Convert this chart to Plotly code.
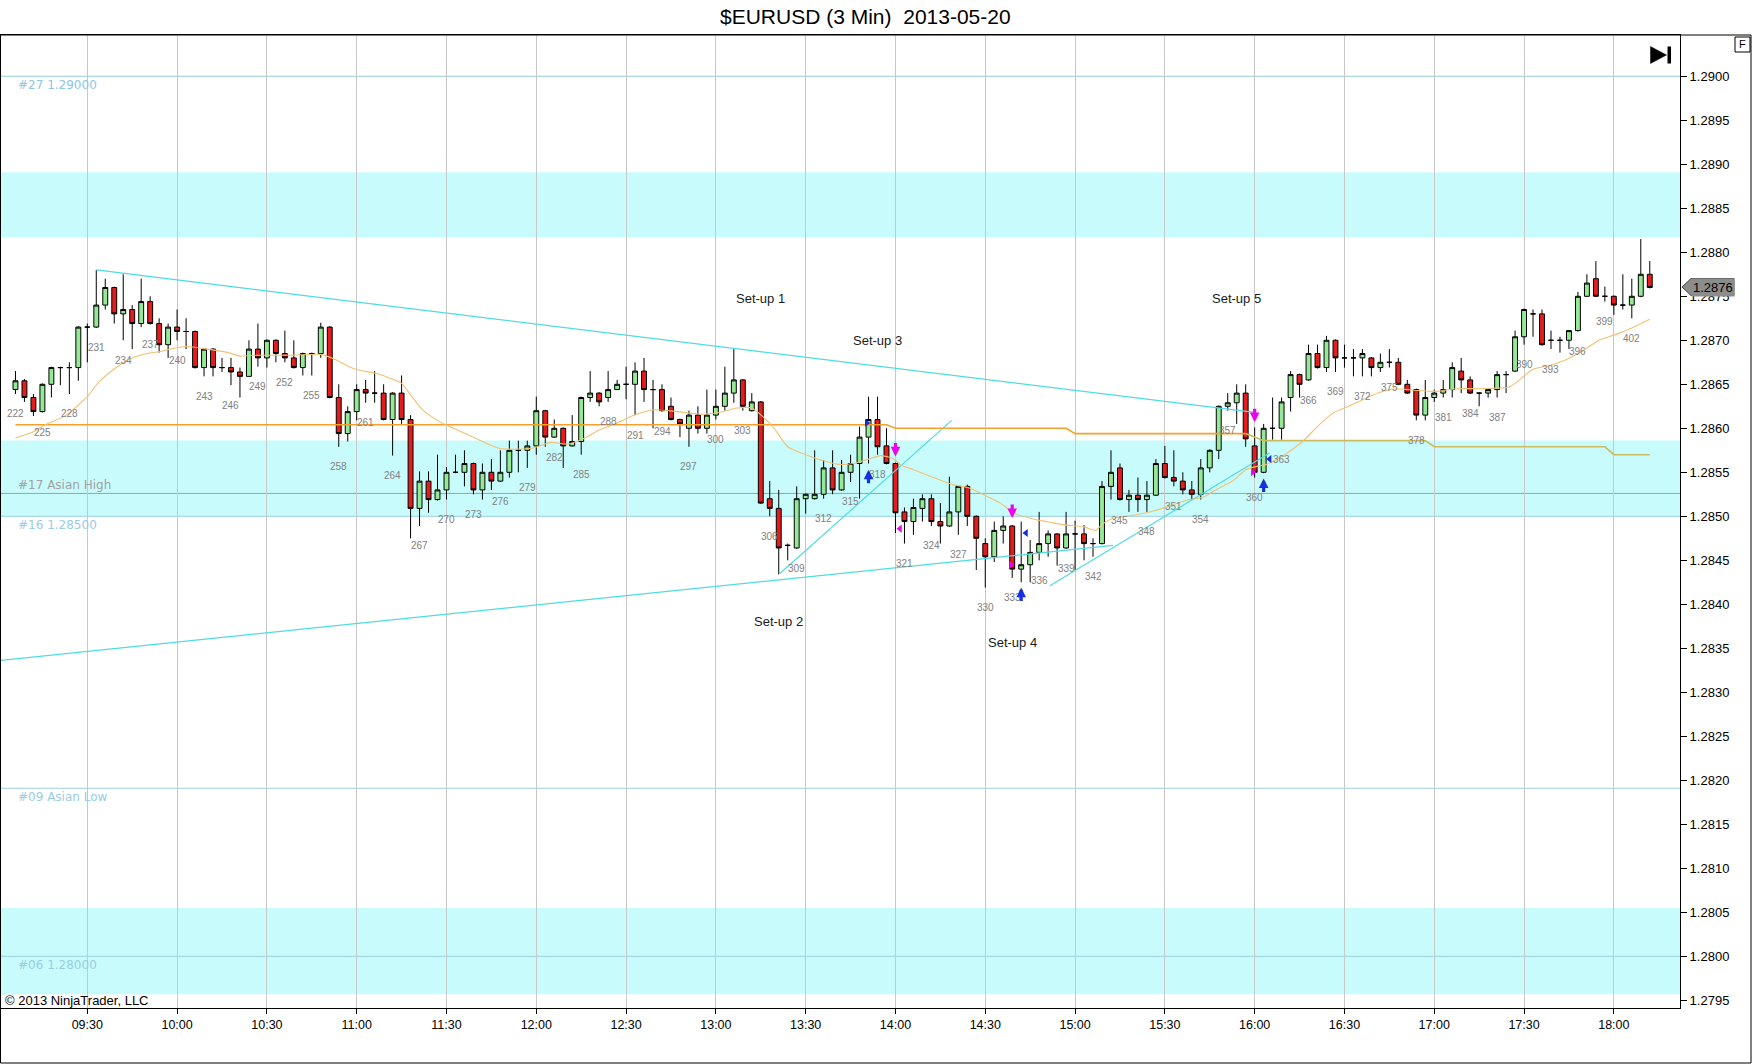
import plotly.graph_objects as go
import pandas as pd

DAY = "2013-05-20"

# ---------------- data ----------------
bar_numbers = list(range(222, 405))
first_bar_time = "09:06"
bar_minutes = 3

opens = [
    1.28644, 1.28654, 1.28635, 1.28619, 1.28650, 1.28669, 1.28669, 1.28669, 1.28715, 1.28715,
    1.28740, 1.28760, 1.28730, 1.28735, 1.28719, 1.28744, 1.28719, 1.28695, 1.28715, 1.28710,
    1.28710, 1.28669, 1.28690, 1.28669, 1.28669, 1.28664, 1.28659, 1.28690, 1.28680, 1.28700,
    1.28685, 1.28680, 1.28669, 1.28685, 1.28685, 1.28715, 1.28635, 1.28594, 1.28619, 1.28644,
    1.28640, 1.28640, 1.28610, 1.28640, 1.28610, 1.28509, 1.28540, 1.28519, 1.28530, 1.28550,
    1.28550, 1.28560, 1.28530, 1.28550, 1.28540, 1.28550, 1.28575, 1.28575, 1.28580, 1.28620,
    1.28590, 1.28600, 1.28580, 1.28585, 1.28635, 1.28640, 1.28635, 1.28644, 1.28650, 1.28650,
    1.28665, 1.28644, 1.28644, 1.28625, 1.28610, 1.28600, 1.28615, 1.28600, 1.28615, 1.28625,
    1.28640, 1.28655, 1.28620, 1.28630, 1.28520, 1.28509, 1.28467, 1.28464, 1.28520, 1.28520,
    1.28525, 1.28555, 1.28530, 1.28550, 1.28560, 1.28590, 1.28610, 1.28580, 1.28560, 1.28505,
    1.28494, 1.28509, 1.28520, 1.28494, 1.28489, 1.28505, 1.28534, 1.28500, 1.28469, 1.28454,
    1.28484, 1.28489, 1.28440, 1.28445, 1.28459, 1.28469, 1.28480, 1.28464, 1.28480, 1.28480,
    1.28469, 1.28469, 1.28534, 1.28555, 1.28519, 1.28524, 1.28519, 1.28524, 1.28560, 1.28544,
    1.28540, 1.28530, 1.28525, 1.28555, 1.28575, 1.28625, 1.28629, 1.28640, 1.28580, 1.28550,
    1.28600, 1.28600, 1.28635, 1.28661, 1.28655, 1.28685, 1.28669, 1.28700, 1.28680, 1.28680,
    1.28680, 1.28680, 1.28669, 1.28675, 1.28675, 1.28650, 1.28644, 1.28615, 1.28635, 1.28640,
    1.28644, 1.28665, 1.28655, 1.28640, 1.28640, 1.28644, 1.28661, 1.28665, 1.28704, 1.28730,
    1.28730, 1.28700, 1.28700, 1.28700, 1.28711, 1.28750, 1.28770, 1.28750, 1.28750, 1.28740,
    1.28740, 1.28750, 1.28775,
]
highs = [
    1.28665, 1.28656, 1.28639, 1.28651, 1.28670, 1.28670, 1.28675, 1.28716, 1.28719, 1.28780,
    1.28770, 1.28761, 1.28775, 1.28740, 1.28770, 1.28750, 1.28725, 1.28719, 1.28735, 1.28725,
    1.28711, 1.28690, 1.28691, 1.28680, 1.28680, 1.28669, 1.28700, 1.28719, 1.28701, 1.28701,
    1.28711, 1.28700, 1.28686, 1.28686, 1.28720, 1.28716, 1.28650, 1.28625, 1.28650, 1.28655,
    1.28665, 1.28650, 1.28641, 1.28660, 1.28615, 1.28551, 1.28551, 1.28570, 1.28556, 1.28570,
    1.28575, 1.28561, 1.28560, 1.28565, 1.28575, 1.28586, 1.28586, 1.28586, 1.28636, 1.28621,
    1.28610, 1.28601, 1.28615, 1.28636, 1.28665, 1.28641, 1.28665, 1.28655, 1.28670, 1.28675,
    1.28680, 1.28655, 1.28650, 1.28635, 1.28611, 1.28620, 1.28625, 1.28644, 1.28644, 1.28670,
    1.28690, 1.28656, 1.28640, 1.28631, 1.28540, 1.28530, 1.28469, 1.28534, 1.28526, 1.28575,
    1.28564, 1.28575, 1.28564, 1.28570, 1.28602, 1.28636, 1.28636, 1.28600, 1.28561, 1.28510,
    1.28520, 1.28525, 1.28525, 1.28515, 1.28545, 1.28535, 1.28536, 1.28501, 1.28475, 1.28494,
    1.28500, 1.28490, 1.28494, 1.28473, 1.28505, 1.28484, 1.28481, 1.28505, 1.28495, 1.28490,
    1.28475, 1.28540, 1.28575, 1.28560, 1.28530, 1.28544, 1.28540, 1.28565, 1.28580, 1.28575,
    1.28550, 1.28540, 1.28565, 1.28576, 1.28626, 1.28640, 1.28650, 1.28650, 1.28601, 1.28605,
    1.28635, 1.28635, 1.28665, 1.28662, 1.28695, 1.28695, 1.28705, 1.28701, 1.28695, 1.28690,
    1.28690, 1.28681, 1.28685, 1.28690, 1.28680, 1.28655, 1.28645, 1.28655, 1.28644, 1.28655,
    1.28675, 1.28680, 1.28659, 1.28641, 1.28645, 1.28665, 1.28665, 1.28711, 1.28736, 1.28735,
    1.28735, 1.28711, 1.28704, 1.28711, 1.28755, 1.28775, 1.28790, 1.28761, 1.28751, 1.28775,
    1.28770, 1.28815, 1.28790,
]
lows = [
    1.28639, 1.28630, 1.28614, 1.28618, 1.28635, 1.28649, 1.28639, 1.28654, 1.28675, 1.28714,
    1.28735, 1.28719, 1.28700, 1.28690, 1.28715, 1.28718, 1.28686, 1.28680, 1.28700, 1.28690,
    1.28668, 1.28659, 1.28659, 1.28664, 1.28649, 1.28635, 1.28659, 1.28670, 1.28669, 1.28675,
    1.28675, 1.28668, 1.28660, 1.28660, 1.28680, 1.28634, 1.28579, 1.28585, 1.28609, 1.28629,
    1.28629, 1.28609, 1.28569, 1.28605, 1.28475, 1.28489, 1.28504, 1.28518, 1.28519, 1.28549,
    1.28534, 1.28525, 1.28519, 1.28530, 1.28539, 1.28544, 1.28550, 1.28555, 1.28570, 1.28579,
    1.28589, 1.28555, 1.28579, 1.28570, 1.28630, 1.28625, 1.28630, 1.28644, 1.28633, 1.28615,
    1.28630, 1.28600, 1.28619, 1.28609, 1.28590, 1.28579, 1.28594, 1.28594, 1.28610, 1.28620,
    1.28629, 1.28620, 1.28619, 1.28514, 1.28500, 1.28434, 1.28450, 1.28463, 1.28503, 1.28519,
    1.28520, 1.28525, 1.28529, 1.28539, 1.28520, 1.28560, 1.28570, 1.28559, 1.28481, 1.28469,
    1.28479, 1.28494, 1.28489, 1.28469, 1.28488, 1.28479, 1.28489, 1.28439, 1.28419, 1.28448,
    1.28469, 1.28430, 1.28425, 1.28425, 1.28450, 1.28454, 1.28444, 1.28463, 1.28439, 1.28450,
    1.28454, 1.28468, 1.28519, 1.28518, 1.28505, 1.28505, 1.28505, 1.28523, 1.28543, 1.28534,
    1.28525, 1.28519, 1.28519, 1.28550, 1.28565, 1.28620, 1.28605, 1.28579, 1.28544, 1.28549,
    1.28587, 1.28587, 1.28619, 1.28635, 1.28654, 1.28668, 1.28664, 1.28664, 1.28669, 1.28659,
    1.28659, 1.28659, 1.28664, 1.28669, 1.28649, 1.28639, 1.28609, 1.28609, 1.28630, 1.28635,
    1.28635, 1.28640, 1.28639, 1.28625, 1.28635, 1.28635, 1.28640, 1.28664, 1.28695, 1.28704,
    1.28694, 1.28690, 1.28686, 1.28690, 1.28710, 1.28749, 1.28749, 1.28744, 1.28729, 1.28735,
    1.28725, 1.28749, 1.28759,
]
closes = [
    1.28654, 1.28635, 1.28619, 1.28650, 1.28669, 1.28669, 1.28669, 1.28715, 1.28715, 1.28740,
    1.28760, 1.28730, 1.28735, 1.28719, 1.28744, 1.28719, 1.28695, 1.28715, 1.28710, 1.28710,
    1.28669, 1.28690, 1.28669, 1.28669, 1.28664, 1.28659, 1.28690, 1.28680, 1.28700, 1.28685,
    1.28680, 1.28669, 1.28685, 1.28685, 1.28715, 1.28635, 1.28594, 1.28619, 1.28644, 1.28640,
    1.28640, 1.28610, 1.28640, 1.28610, 1.28509, 1.28540, 1.28519, 1.28530, 1.28550, 1.28550,
    1.28560, 1.28530, 1.28550, 1.28540, 1.28550, 1.28575, 1.28575, 1.28580, 1.28620, 1.28590,
    1.28600, 1.28580, 1.28585, 1.28635, 1.28640, 1.28630, 1.28644, 1.28650, 1.28650, 1.28665,
    1.28644, 1.28644, 1.28620, 1.28610, 1.28605, 1.28615, 1.28600, 1.28615, 1.28625, 1.28640,
    1.28655, 1.28625, 1.28630, 1.28515, 1.28509, 1.28464, 1.28467, 1.28520, 1.28525, 1.28525,
    1.28555, 1.28530, 1.28550, 1.28560, 1.28590, 1.28610, 1.28579, 1.28560, 1.28504, 1.28494,
    1.28510, 1.28520, 1.28494, 1.28489, 1.28505, 1.28534, 1.28500, 1.28475, 1.28454, 1.28484,
    1.28489, 1.28440, 1.28445, 1.28459, 1.28469, 1.28480, 1.28464, 1.28480, 1.28480, 1.28469,
    1.28469, 1.28534, 1.28550, 1.28519, 1.28524, 1.28519, 1.28524, 1.28560, 1.28544, 1.28540,
    1.28530, 1.28525, 1.28555, 1.28575, 1.28625, 1.28629, 1.28640, 1.28588, 1.28550, 1.28600,
    1.28600, 1.28630, 1.28661, 1.28650, 1.28685, 1.28669, 1.28700, 1.28680, 1.28680, 1.28680,
    1.28685, 1.28669, 1.28675, 1.28675, 1.28650, 1.28640, 1.28615, 1.28635, 1.28640, 1.28644,
    1.28669, 1.28655, 1.28640, 1.28640, 1.28644, 1.28661, 1.28661, 1.28704, 1.28735, 1.28730,
    1.28695, 1.28700, 1.28700, 1.28711, 1.28750, 1.28765, 1.28750, 1.28750, 1.28740, 1.28740,
    1.28750, 1.28775, 1.28760,
]

# moving-average line
ema_times = ["09:06", "09:12", "09:16", "09:23", "09:30", "09:34", "09:40", "09:45", "09:50", "09:54",
             "09:59", "10:03", "10:10", "10:17", "10:21", "10:25", "10:38", "10:48", "10:53", "10:58",
             "11:01", "11:07", "11:11", "11:15", "11:18", "11:22", "11:27", "11:31", "11:37", "11:42",
             "11:48", "11:58", "12:05", "12:10", "12:15", "12:21", "12:27", "12:32", "12:39", "12:47",
             "12:55", "13:01", "13:07", "13:12", "13:19", "13:24", "13:30", "13:35", "13:41", "13:46",
             "13:51", "13:55", "13:59", "14:02", "14:06", "14:12", "14:19", "14:24", "14:31", "14:35",
             "14:40", "14:46", "14:52", "14:57", "15:03", "15:07", "15:09", "15:13", "15:19", "15:25",
             "15:31", "15:37", "15:43", "15:47", "15:53", "15:57", "16:01", "16:04", "16:10", "16:16",
             "16:21", "16:26", "16:32", "16:37", "16:43", "16:47", "16:54", "17:01", "17:07", "17:16",
             "17:25", "17:27", "17:33", "17:39", "17:44", "17:50", "17:55", "18:01", "18:06", "18:12"]
ema_values = [1.28589, 1.28596, 1.28604, 1.28615, 1.28636, 1.28653, 1.28670, 1.28680, 1.28685, 1.28687,
              1.28691, 1.28693, 1.28690, 1.28686, 1.28682, 1.28683, 1.28683, 1.28684, 1.28678, 1.28669,
              1.28666, 1.28662, 1.28657, 1.28651, 1.28638, 1.28621, 1.28609, 1.28602, 1.28593, 1.28585,
              1.28577, 1.28577, 1.28584, 1.28582, 1.28587, 1.28598, 1.28606, 1.28614, 1.28621, 1.28619,
              1.28616, 1.28618, 1.28623, 1.28623, 1.28602, 1.28579, 1.28570, 1.28564, 1.28559, 1.28560,
              1.28565, 1.28569, 1.28566, 1.28558, 1.28553, 1.28545, 1.28536, 1.28533, 1.28522, 1.28515,
              1.28503, 1.28497, 1.28493, 1.28490, 1.28488, 1.28484, 1.28491, 1.28498, 1.28501, 1.28505,
              1.28511, 1.28518, 1.28522, 1.28530, 1.28541, 1.28553, 1.28557, 1.28559, 1.28570, 1.28585,
              1.28602, 1.28617, 1.28626, 1.28634, 1.28642, 1.28645, 1.28643, 1.28642, 1.28645, 1.28645,
              1.28647, 1.28651, 1.28667, 1.28672, 1.28678, 1.28689, 1.28700, 1.28707, 1.28714, 1.28724]

# stepped level line (orange part, then khaki part)
step_a_times = ["09:06", "13:57", "14:00", "14:57", "15:00", "15:57"]
step_a_values = [1.28604, 1.28604, 1.28600, 1.28600, 1.28594, 1.28594]
step_b_times = ["15:57", "16:03", "16:57", "17:00", "17:57", "18:00", "18:12"]
step_b_values = [1.28594, 1.28586, 1.28586, 1.28579, 1.28579, 1.28570, 1.28570]

# drawn trend lines: (time, price) start and end
trend_upper = [("09:33", 1.28780), ("16:00", 1.28618)]
trend_lower = [("09:00", 1.28336), ("15:12:42", 1.28467)]
trend_setup2 = [("13:21:24", 1.28435), ("14:18:48", 1.28609)]
trend_setup4 = [("14:51:36", 1.28421), ("16:05", 1.28572)]

# zones and horizontal levels
band_lows = [1.28817, 1.28500, 1.27957]
band_highs = [1.28891, 1.28586, 1.28055]
level_prices = [1.29000, 1.28526, 1.28500, 1.28191, 1.28000]
level_names = ["#27 1.29000", "#17 Asian High", "#16 1.28500", "#09 Asian Low", "#06 1.28000"]

# set-up notes
setup_texts = ["Set-up 1", "Set-up 2", "Set-up 3", "Set-up 4", "Set-up 5"]
setup_times = ["13:15", "13:21", "13:54", "14:39", "15:54"]
setup_prices = [1.28748, 1.28380, 1.28700, 1.28357, 1.28748]

# signal arrows
buy_times = ["13:51", "14:42", "16:03"]
buy_prices = [1.28553, 1.28419, 1.28543]
sell_times = ["14:00", "14:39", "16:00"]
sell_prices = [1.28568, 1.28498, 1.28607]
tri_right_times = ["13:50:24", "14:38:36", "15:59:24"]
tri_right_prices = [1.28606, 1.28445, 1.28550]
tri_left_times = ["14:01:30", "14:43:36", "16:05"]
tri_left_prices = [1.28486, 1.28481, 1.28565]

x_tick_labels = ["09:30", "10:00", "10:30", "11:00", "11:30", "12:00", "12:30", "13:00", "13:30",
                 "14:00", "14:30", "15:00", "15:30", "16:00", "16:30", "17:00", "17:30", "18:00"]
y_ticks = [1.2795, 1.2800, 1.2805, 1.2810, 1.2815, 1.2820, 1.2825, 1.2830, 1.2835, 1.2840, 1.2845,
           1.2850, 1.2855, 1.2860, 1.2865, 1.2870, 1.2875, 1.2880, 1.2885, 1.2890, 1.2895, 1.2900]
last_price_text = "1.2876"
title_text = "$EURUSD (3 Min)  2013-05-20"
copyright_text = "© 2013 NinjaTrader, LLC"


# ---------------- helpers ----------------
def T(hm):
    return pd.Timestamp(f"{DAY} {hm}")


bar_times = pd.date_range(T(first_bar_time), periods=len(bar_numbers), freq=f"{bar_minutes}min")

W, H = 1752, 1064
PL, PR, PT, PB = 1, 1680, 35, 1008


def px(X):
    return (X - PL) / (PR - PL)


def py(Y):
    return (PB - Y) / (PB - PT)


ARIAL = "Liberation Sans, Arial, sans-serif"
VERD = "DejaVu Sans, Verdana, sans-serif"
BLUE = "#1530E0"
MAGENTA = "#F000F0"

fig = go.Figure()

# trend lines (under candles)
for line in (trend_upper, trend_lower, trend_setup2, trend_setup4):
    fig.add_trace(go.Scatter(
        x=[T(p[0]) for p in line], y=[p[1] for p in line], mode="lines",
        line=dict(color="#4EDCE0", width=1.2), hoverinfo="skip"))

fig.add_trace(go.Candlestick(
    x=bar_times, open=opens, high=highs, low=lows, close=closes,
    increasing=dict(fillcolor="#94EA94", line=dict(color="black", width=1)),
    decreasing=dict(fillcolor="#E41C1C", line=dict(color="black", width=1)),
    whiskerwidth=0, hoverinfo="skip"))

fig.add_trace(go.Scatter(
    x=[T(t) for t in step_a_times], y=step_a_values, mode="lines",
    line=dict(color="#F5A02A", width=1.6), hoverinfo="skip"))
fig.add_trace(go.Scatter(
    x=[T(t) for t in step_b_times], y=step_b_values, mode="lines",
    line=dict(color="#CDBA5C", width=1.6), hoverinfo="skip"))
fig.add_trace(go.Scatter(
    x=[T(t) for t in ema_times], y=ema_values, mode="lines",
    line=dict(color="#F2C072", width=1.1, shape="spline", smoothing=0.6), hoverinfo="skip"))

fig.add_trace(go.Scatter(
    x=[T(t) for t in tri_right_times], y=tri_right_prices, mode="markers",
    marker=dict(symbol="triangle-right", size=7, color=[BLUE, MAGENTA, MAGENTA]),
    hoverinfo="skip"))
fig.add_trace(go.Scatter(
    x=[T(t) for t in tri_left_times], y=tri_left_prices, mode="markers",
    marker=dict(symbol="triangle-left", size=7, color=[MAGENTA, BLUE, BLUE]),
    hoverinfo="skip"))

shapes = []
for lo, hi in zip(band_lows, band_highs):
    shapes.append(dict(type="rect", xref="paper", x0=0, x1=1, yref="y", y0=lo, y1=hi,
                       fillcolor="#C8FCFC", line=dict(width=0), layer="below"))
level_colors = ["#96CCDC", "#A0A0A0", "#9CCFE2", "#9CCFE2", "#9CCFE2"]
for p, c in zip(level_prices, level_colors):
    shapes.append(dict(type="line", xref="paper", x0=0, x1=1, yref="y", y0=p, y1=p,
                       line=dict(color=c, width=1), layer="below"))

# outer window frame
shapes.append(dict(type="rect", xref="paper", yref="paper",
                   x0=px(0.5), x1=px(1751), y0=py(1063), y1=py(35),
                   line=dict(color="black", width=1), fillcolor="rgba(0,0,0,0)", layer="above"))
# last price tag
shapes.append(dict(type="path", xref="paper", yref="paper",
                   path=(f"M {px(1682)},{py(287)} L {px(1691)},{py(278.5)} L {px(1734)},{py(278.5)} "
                         f"L {px(1734)},{py(295.5)} L {px(1691)},{py(295.5)} Z"),
                   fillcolor="#8C8C8C", line=dict(color="#4A4A4A", width=1)))
# "F" box
shapes.append(dict(type="rect", xref="paper", yref="paper",
                   x0=px(1735), x1=px(1750), y0=py(52), y1=py(37),
                   fillcolor="white", line=dict(color="black", width=1)))
# play-to-end icon
shapes.append(dict(type="path", xref="paper", yref="paper",
                   path=f"M {px(1650.5)},{py(46.5)} L {px(1650.5)},{py(63.5)} L {px(1666.5)},{py(55)} Z",
                   fillcolor="black", line=dict(color="black", width=0.5)))
shapes.append(dict(type="rect", xref="paper", yref="paper",
                   x0=px(1667.5), x1=px(1671), y0=py(63.5), y1=py(46.5),
                   fillcolor="black", line=dict(width=0)))

annotations = []
annotations.append(dict(text=title_text, xref="paper", yref="paper", x=px(865), y=py(16),
                        xanchor="center", yanchor="middle", showarrow=False,
                        font=dict(family=ARIAL, size=21, color="black")))
annotations.append(dict(text=copyright_text, xref="paper", yref="paper", x=px(3), y=py(1000),
                        xanchor="left", yanchor="middle", showarrow=False,
                        font=dict(family=ARIAL, size=13, color="black")))
annotations.append(dict(text=last_price_text, xref="paper", yref="paper", x=px(1713), y=py(287),
                        xanchor="center", yanchor="middle", showarrow=False,
                        bgcolor="#8C8C8C", borderpad=1,
                        font=dict(family=ARIAL, size=13, color="black")))
annotations.append(dict(text="F", xref="paper", yref="paper", x=px(1742.5), y=py(44.5),
                        xanchor="center", yanchor="middle", showarrow=False,
                        font=dict(family=ARIAL, size=11, color="black")))

label_shift = [-9, 8, -9, -9, -9]
label_colors = ["#8CC6E4", "#A0A0A0", "#98CCE6", "#98CCE6", "#98CCE6"]
for name, p, s, c in zip(level_names, level_prices, label_shift, label_colors):
    annotations.append(dict(text=name, xref="paper", x=px(16), yref="y", y=p, yshift=s,
                            xanchor="left", yanchor="middle", showarrow=False,
                            font=dict(family=VERD, size=12, color=c)))

for txt, t, p in zip(setup_texts, setup_times, setup_prices):
    annotations.append(dict(text=txt, x=T(t), y=p, showarrow=False,
                            xanchor="center", yanchor="middle",
                            font=dict(family=ARIAL, size=13, color="#1A1A1A")))

for n, t, lo in zip(bar_numbers, bar_times, lows):
    if n % 3 == 0:
        annotations.append(dict(text=str(n), x=t, y=lo, yshift=-20, showarrow=False,
                                xanchor="center", yanchor="middle",
                                font=dict(family=ARIAL, size=10, color="#808080")))

for t, p in zip(buy_times, buy_prices):
    annotations.append(dict(text="", x=T(t), y=p, ax=0, ay=15, showarrow=True,
                            arrowhead=2, arrowsize=0.6, arrowwidth=3.2, arrowcolor=BLUE,
                            standoff=0, startstandoff=0, font=dict(size=1)))
for t, p in zip(sell_times, sell_prices):
    annotations.append(dict(text="", x=T(t), y=p, ax=0, ay=-15, showarrow=True,
                            arrowhead=2, arrowsize=0.6, arrowwidth=3.2, arrowcolor=MAGENTA,
                            standoff=0, startstandoff=0, font=dict(size=1)))

fig.update_layout(
    width=W, height=H,
    margin=dict(l=PL, r=W - PR, t=PT, b=H - PB, pad=0),
    paper_bgcolor="white", plot_bgcolor="white",
    showlegend=False, hovermode=False, boxgap=0.22,
    shapes=shapes, annotations=annotations,
    xaxis=dict(
        type="date", range=[T("09:01:10"), T("18:22:06")],
        tickvals=[T(s) for s in x_tick_labels], ticktext=x_tick_labels,
        showgrid=True, gridcolor="#C8C8C8", gridwidth=1,
        ticks="outside", ticklen=5, tickcolor="black",
        showline=True, linecolor="black", linewidth=1, mirror=True,
        zeroline=False, rangeslider=dict(visible=False),
        tickfont=dict(family=ARIAL, size=12.5, color="black"),
    ),
    yaxis=dict(
        side="right", range=[1.279413, 1.290469],
        tickvals=y_ticks, ticktext=[f"{v:.4f}" for v in y_ticks],
        showgrid=False, zeroline=False,
        ticks="outside", ticklen=6, tickcolor="black",
        showline=True, linecolor="black", linewidth=1, mirror=True,
        tickfont=dict(family=ARIAL, size=13, color="black"),
    ),
)

fig.write_html("out.html", config={"displayModeBar": False},
               post_script="document.body.style.margin='0';document.body.style.overflow='hidden';")
